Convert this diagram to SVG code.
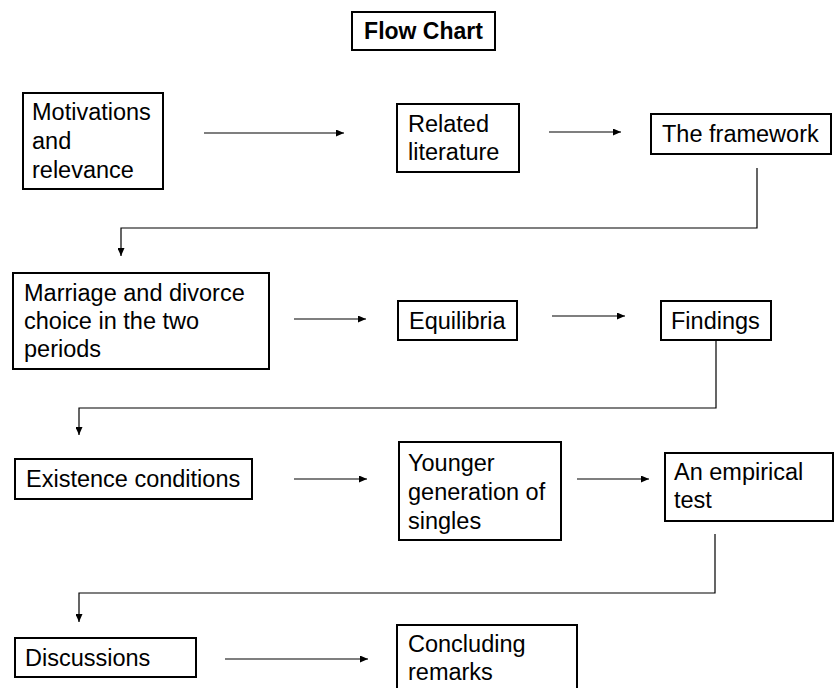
<svg xmlns="http://www.w3.org/2000/svg" width="836" height="688" viewBox="0 0 836 688">
<style>
.box{fill:#fff;stroke:#000;stroke-width:2}
.t{font-family:"Liberation Sans",Arial,sans-serif;font-size:23.5px;fill:#000}
.title{font-family:"Liberation Sans",Arial,sans-serif;font-size:23px;font-weight:bold;fill:#000}
.c{fill:none;stroke:#000;stroke-width:1.2}
</style>
<defs>
<marker id="ah" markerWidth="8" markerHeight="7" refX="8" refY="3.5" orient="auto" markerUnits="userSpaceOnUse">
<path d="M0,0 L8,3.5 L0,7 Z" fill="#000"/>
</marker>
</defs>
<rect width="836" height="688" fill="#fff"/>
<g id="title"><rect class="box" x="352" y="12" width="143" height="38"/><text class="title" x="423.5" y="39" text-anchor="middle">Flow Chart</text></g>
<g id="motivations"><rect class="box" x="23" y="93" width="140" height="96"/><text class="t" x="32" y="120">Motivations</text><text class="t" x="32" y="149">and</text><text class="t" x="32" y="178">relevance</text></g>
<g id="related"><rect class="box" x="397" y="104" width="122" height="68"/><text class="t" x="408" y="132">Related</text><text class="t" x="408" y="160">literature</text></g>
<g id="framework"><rect class="box" x="651" y="114" width="180" height="40"/><text class="t" x="662" y="142">The framework</text></g>
<g id="marriage"><rect class="box" x="13" y="273" width="256" height="96"/><text class="t" x="24" y="301">Marriage and divorce</text><text class="t" x="24" y="329">choice in the two</text><text class="t" x="24" y="357">periods</text></g>
<g id="equilibria"><rect class="box" x="398" y="301" width="119" height="39"/><text class="t" x="409" y="329">Equilibria</text></g>
<g id="findings"><rect class="box" x="661" y="301" width="110" height="39"/><text class="t" x="671" y="329">Findings</text></g>
<g id="existence"><rect class="box" x="15" y="459" width="237" height="40"/><text class="t" x="26" y="487">Existence conditions</text></g>
<g id="younger"><rect class="box" x="399" y="442" width="162" height="98"/><text class="t" x="408" y="471">Younger</text><text class="t" x="408" y="500">generation of</text><text class="t" x="408" y="529">singles</text></g>
<g id="empirical"><rect class="box" x="665" y="453" width="168" height="68"/><text class="t" x="674" y="480">An empirical</text><text class="t" x="674" y="508">test</text></g>
<g id="discussions"><rect class="box" x="15" y="638" width="181" height="39"/><text class="t" x="25" y="666">Discussions</text></g>
<g id="concluding"><rect class="box" x="397" y="625" width="180" height="70"/><text class="t" x="408" y="652">Concluding</text><text class="t" x="408" y="680">remarks</text></g>
<g id="connectors">
<path class="c" d="M204,133 H344" marker-end="url(#ah)"/>
<path class="c" d="M549,132 H621" marker-end="url(#ah)"/>
<path class="c" d="M757,168 V228 H121 V256" marker-end="url(#ah)"/>
<path class="c" d="M294,319 H366" marker-end="url(#ah)"/>
<path class="c" d="M552,316 H625" marker-end="url(#ah)"/>
<path class="c" d="M716,340 V408 H79 V435" marker-end="url(#ah)"/>
<path class="c" d="M294,479 H367" marker-end="url(#ah)"/>
<path class="c" d="M577,479 H649" marker-end="url(#ah)"/>
<path class="c" d="M715,534 V593 H79 V622" marker-end="url(#ah)"/>
<path class="c" d="M225,659 H368" marker-end="url(#ah)"/>
</g>
</svg>
